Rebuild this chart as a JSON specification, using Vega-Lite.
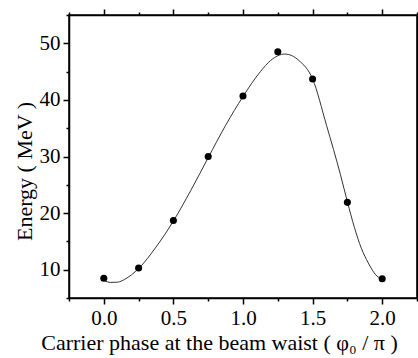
{
  "$schema": "https://vega.github.io/schema/vega-lite/v6.json",
  "width": 348,
  "height": 283,
  "autosize": "none",
  "padding": {"left": 69, "top": 15, "right": 1, "bottom": 60},
  "background": "white",
  "config": {
    "font": "Liberation Serif",
    "view": {"stroke": "black", "strokeWidth": 1.5},
    "axis": {
      "grid": false,
      "domainColor": "black",
      "domainWidth": 1.5,
      "tickColor": "black",
      "tickWidth": 1.5,
      "labelColor": "black",
      "labelFont": "Liberation Serif",
      "labelFontSize": 21,
      "labelOverlap": false,
      "labelFlush": false,
      "titleFont": "Liberation Serif",
      "titleFontSize": 22,
      "titleFontWeight": "normal",
      "titleColor": "black"
    }
  },
  "datasets": {
    "curve": [
      {"phase": 0.0, "energy": 8.1},
      {"phase": 0.05, "energy": 7.75},
      {"phase": 0.1, "energy": 7.8},
      {"phase": 0.15, "energy": 8.3},
      {"phase": 0.25, "energy": 10.2},
      {"phase": 0.375, "energy": 14.0},
      {"phase": 0.5, "energy": 18.6},
      {"phase": 0.625, "energy": 24.0},
      {"phase": 0.75, "energy": 29.8},
      {"phase": 0.875, "energy": 35.5},
      {"phase": 1.0, "energy": 40.6},
      {"phase": 1.125, "energy": 45.0},
      {"phase": 1.2, "energy": 47.0},
      {"phase": 1.3, "energy": 48.1},
      {"phase": 1.4, "energy": 47.0},
      {"phase": 1.5, "energy": 43.7},
      {"phase": 1.6, "energy": 35.5},
      {"phase": 1.7, "energy": 26.8},
      {"phase": 1.75, "energy": 22.0},
      {"phase": 1.8, "energy": 17.5},
      {"phase": 1.85, "energy": 13.8},
      {"phase": 1.9, "energy": 11.2},
      {"phase": 1.95, "energy": 9.2},
      {"phase": 2.0, "energy": 8.3}
    ],
    "points": [
      {"phase": 0.0, "energy": 8.5},
      {"phase": 0.25, "energy": 10.3},
      {"phase": 0.5, "energy": 18.7},
      {"phase": 0.75, "energy": 30.0},
      {"phase": 1.0, "energy": 40.7},
      {"phase": 1.25, "energy": 48.5},
      {"phase": 1.5, "energy": 43.7},
      {"phase": 1.75, "energy": 21.9},
      {"phase": 2.0, "energy": 8.4}
    ]
  },
  "layer": [
    {
      "data": {"name": "curve"},
      "mark": {"type": "line", "interpolate": "monotone", "stroke": "#333333", "strokeWidth": 1},
      "encoding": {
        "x": {
          "field": "phase", "type": "quantitative",
          "scale": {"domain": [-0.25, 2.25], "nice": false, "zero": false},
          "axis": {
            "orient": "bottom",
            "title": "Carrier phase at the beam waist ( φ₀ / π )",
            "values": [-0.25, 0, 0.25, 0.5, 0.75, 1, 1.25, 1.5, 1.75, 2, 2.25],
            "format": ".1f",
            "labelExpr": "datum.value % 0.5 === 0 ? datum.label : ''",
            "labelFont": "Liberation Serif",
            "labelFontSize": 21,
            "tickSize": {"condition": {"test": "datum.value % 0.5 === 0", "value": 6}, "value": 3},
            "labelPadding": 3,
            "titlePadding": 4,
            "titleX": 150
          }
        },
        "y": {
          "field": "energy", "type": "quantitative",
          "scale": {"domain": [5, 55], "nice": false, "zero": false},
          "axis": {
            "orient": "left",
            "title": "Energy ( MeV )",
            "values": [5, 10, 15, 20, 25, 30, 35, 40, 45, 50, 55],
            "labelExpr": "datum.value % 10 === 0 ? datum.label : ''",
            "labelFont": "Liberation Serif",
            "labelFontSize": 21,
            "tickSize": {"condition": {"test": "datum.value % 10 === 0", "value": 6}, "value": 3},
            "labelPadding": 3,
            "titlePadding": 3,
            "titleY": 156
          }
        }
      }
    },
    {
      "data": {"name": "points"},
      "mark": {"type": "circle", "size": 50, "color": "black", "opacity": 1},
      "encoding": {
        "x": {
          "field": "phase", "type": "quantitative",
          "axis": {
            "orient": "top",
            "title": null,
            "labels": false,
            "values": [-0.25, 0, 0.25, 0.5, 0.75, 1, 1.25, 1.5, 1.75, 2, 2.25],
            "tickSize": {"condition": {"test": "datum.value % 0.5 === 0", "value": 6}, "value": 3}
          }
        },
        "y": {
          "field": "energy", "type": "quantitative",
          "axis": {
            "orient": "right",
            "title": null,
            "labels": false,
            "ticks": false
          }
        }
      }
    }
  ],
  "resolve": {"axis": {"x": "independent", "y": "independent"}}
}
